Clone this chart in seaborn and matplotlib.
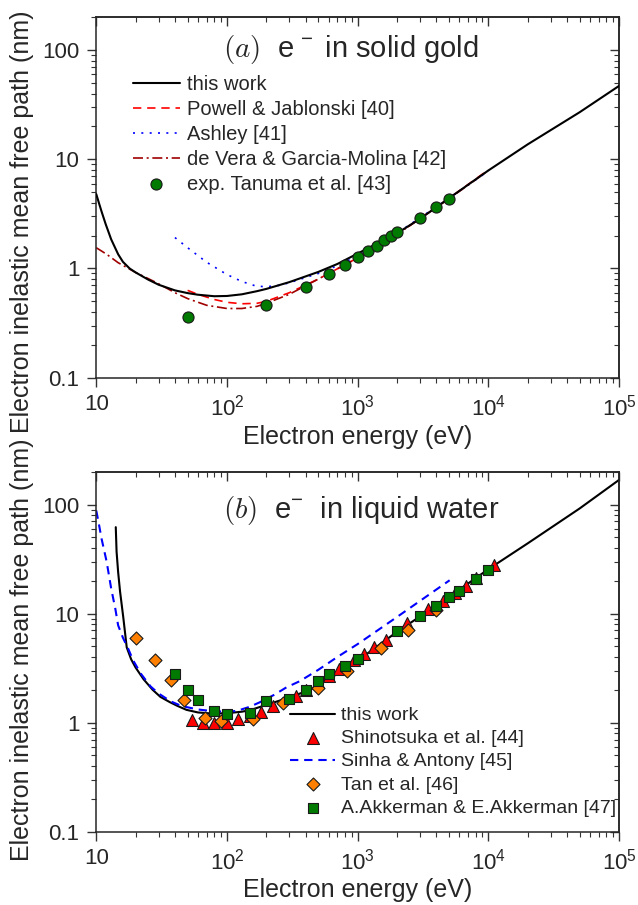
import numpy as np
import matplotlib
matplotlib.use("Agg")
import matplotlib.pyplot as plt
from matplotlib.ticker import NullFormatter
import seaborn as sns

# ---------------- (a) electrons in solid gold ----------------
au_this_E = [10, 10.5, 11, 11.8, 13, 14.7, 16, 18, 20, 25, 30, 40, 50, 60, 80, 100, 130,
             170, 200, 300, 500, 700, 1000, 2000, 3000, 5000, 10000, 20000, 50000, 100000]
au_this_L = [4.8, 3.95, 3.3, 2.55, 1.85, 1.35, 1.15, 1.0, 0.92, 0.79, 0.71, 0.63, 0.595, 0.575,
             0.557, 0.56, 0.58, 0.62, 0.65, 0.75, 0.93, 1.1, 1.37, 2.1, 2.85, 4.4, 7.9,
             13.7, 27, 47]

powell_E = [50, 60, 80, 100, 130, 170, 200, 300, 500, 1000, 2000, 5000, 10000]
powell_L = [0.63, 0.58, 0.52, 0.49, 0.475, 0.48, 0.5, 0.6, 0.8, 1.25, 2.05, 4.4, 8.0]

ashley_E = [40, 50, 70, 100, 130, 167, 200, 250, 300, 500, 700, 1000, 2000, 5000, 10000]
ashley_L = [1.92, 1.55, 1.14, 0.88, 0.76, 0.69, 0.68, 0.70, 0.74, 0.9, 1.06, 1.31, 2.1, 4.4, 7.8]

devera_E = [10, 12, 14.7, 20, 29, 40, 50, 70, 100, 130, 170, 200, 300, 500, 1000, 2000,
            5000, 10000]
devera_L = [1.55, 1.35, 1.13, 0.92, 0.74, 0.6, 0.53, 0.46, 0.43, 0.43, 0.45, 0.48, 0.58,
            0.8, 1.25, 2.05, 4.35, 7.9]

tanuma_E = [50, 200, 400, 600, 800, 1000, 1200, 1400, 1600, 1800, 2000, 3000, 4000, 5000]
tanuma_L = [0.36, 0.46, 0.68, 0.89, 1.08, 1.27, 1.46, 1.61, 1.82, 1.99, 2.15, 2.93, 3.67, 4.37]

# ---------------- (b) electrons in liquid water ----------------
w_this_E = [14.1, 14.3, 14.7, 15.2, 16.1, 17.1, 18.5, 20, 23, 27, 31, 36.6, 42, 49, 60, 78,
            100, 130, 150, 213, 300, 432, 500, 700, 1000, 2000, 3000, 5000, 10000, 20000,
            50000, 100000]
w_this_L = [62, 37, 24, 16, 9.2, 4.9, 3.8, 3.2, 2.5, 2.0, 1.72, 1.54, 1.42, 1.31, 1.24, 1.21,
            1.22, 1.26, 1.3, 1.49, 1.7, 2.0, 2.2, 2.8, 3.7, 6.8, 9.4, 14.2, 25.5, 44, 92, 168]

sinha_E = [10, 10.5, 11, 12, 13, 14, 14.7, 16, 17.5, 19.2, 22, 26, 30, 37, 45, 60, 80, 100,
           119, 150, 179, 230, 286, 361, 500, 700, 1000, 1172, 2000, 3570, 5060]
sinha_L = [88, 65, 48, 30, 17, 11, 7.8, 6.0, 4.8, 3.7, 2.8, 2.15, 1.85, 1.57, 1.42, 1.32,
           1.27, 1.26, 1.28, 1.4, 1.54, 1.8, 2.11, 2.4, 3.05, 4.0, 5.25, 5.98, 9.3, 15.1, 20.2]

shino_E = [54, 66, 80, 100, 122, 150, 181, 224, 336, 400, 500, 600, 723, 937, 1117, 1334,
           1648, 2400, 3470, 4520, 5600, 6700, 8000, 11100]
shino_L = [1.05, 1.0, 1.0, 1.0, 1.09, 1.15, 1.25, 1.41, 1.77, 2.0, 2.35, 2.7, 3.11, 3.76,
           4.27, 4.97, 5.77, 8.2, 11.0, 13.1, 15.6, 17.9, 21.0, 28.0]

tan_E = [20.3, 28.3, 37, 47, 68, 90, 157, 269, 500, 824, 1508, 2415, 3990]
tan_L = [5.94, 3.76, 2.44, 1.62, 1.11, 1.03, 1.09, 1.51, 2.09, 3.0, 4.8, 7.07, 10.8]

akk_E = [40, 50, 60, 80, 100, 150, 200, 300, 400, 500, 600, 800, 1000, 2000, 3000, 4000,
         5000, 6000, 8000, 10000]
akk_L = [2.77, 2.01, 1.6, 1.28, 1.21, 1.23, 1.57, 1.66, 2.0, 2.43, 2.8, 3.29, 3.84, 6.9,
         9.5, 11.7, 14.1, 16.2, 20.7, 25.0]

x_ticks = [10, 1e2, 1e3, 1e4, 1e5]
x_ticklabels = ["10", r"$\mathregular{10^2}$", r"$\mathregular{10^3}$",
                r"$\mathregular{10^4}$", r"$\mathregular{10^5}$"]
y_ticks = [0.1, 1, 10, 100]
y_ticklabels = ["0.1", "1", "10", "100"]

sns.set_style("ticks")
plt.rcParams["font.family"] = ["Liberation Sans", "DejaVu Sans"]
plt.rcParams["axes.linewidth"] = 1.1

fig = plt.figure(figsize=(6.38, 9.05), dpi=100)
ax_a = fig.add_axes([0.1509, 0.5827, 0.8193, 0.3982])
ax_b = fig.add_axes([0.1509, 0.0810, 0.8193, 0.3978])


def style_axes(ax, ylab_y):
    ax.set_xscale("log")
    ax.set_yscale("log")
    ax.set_xlim(10, 1e5)
    ax.set_ylim(0.1, 200)
    ax.set_xticks(x_ticks, labels=x_ticklabels)
    ax.set_yticks(y_ticks, labels=y_ticklabels)
    ax.xaxis.set_minor_formatter(NullFormatter())
    ax.yaxis.set_minor_formatter(NullFormatter())
    ax.tick_params(which="both", direction="out", top=False, right=False,
                   labelsize=16, color="#333333")
    ax.tick_params(which="major", length=6.5, width=1.0, pad=5.5)
    ax.tick_params(which="minor", length=3.4, width=0.8)
    for side in ("top", "right"):
        ax.spines[side].set_visible(True)
    sec_x = ax.secondary_xaxis("top")
    sec_x.tick_params(which="both", direction="in", labeltop=False, color="#333333")
    sec_x.tick_params(which="major", length=6.5, width=1.0)
    sec_x.tick_params(which="minor", length=3.4, width=0.8)
    sec_y = ax.secondary_yaxis("right")
    sec_y.tick_params(which="both", direction="in", labelright=False, color="#333333")
    sec_y.tick_params(which="major", length=6.5, width=1.0)
    sec_y.tick_params(which="minor", length=3.4, width=0.8)
    for sec in (sec_x, sec_y):
        sec.xaxis.set_minor_formatter(NullFormatter())
        sec.yaxis.set_minor_formatter(NullFormatter())
    ax.set_xlabel("Electron energy (eV)", fontsize=18)
    ax.set_ylabel("Electron inelastic mean free path (nm)", fontsize=18)
    ax.xaxis.set_label_coords(0.5, -0.131)
    ax.yaxis.set_label_coords(-0.120, ylab_y)


# ---- panel (a)
style_axes(ax_a, 0.432)
sns.lineplot(x=au_this_E, y=au_this_L, ax=ax_a, color="black", lw=1.5,
             label="this work", estimator=None, sort=False, zorder=3)
sns.lineplot(x=powell_E, y=powell_L, ax=ax_a, color="#ff0000", lw=1.2,
             linestyle=(0, (5, 3.5)), label="Powell & Jablonski [40]",
             estimator=None, sort=False, zorder=2)
sns.lineplot(x=ashley_E, y=ashley_L, ax=ax_a, color="#0000ff", lw=1.2,
             linestyle=(0, (1.2, 3.8)), label="Ashley [41]",
             estimator=None, sort=False, zorder=2)
sns.lineplot(x=devera_E, y=devera_L, ax=ax_a, color="#a00000", lw=1.2,
             linestyle=(0, (6, 2.2, 1.2, 2.2)), label="de Vera & Garcia-Molina [42]",
             estimator=None, sort=False, zorder=2)
sns.scatterplot(x=tanuma_E, y=tanuma_L, ax=ax_a, marker="o", s=64, color="#007a00",
                edgecolor="#1a1a1a", linewidth=0.8, label="exp. Tanuma et al. [43]",
                zorder=5)
ax_a.legend(loc="upper left", bbox_to_anchor=(0.0702, 0.841), frameon=False,
            fontsize=14.5, handlelength=2.33, handletextpad=0.35, labelspacing=0.3,
            borderpad=0, borderaxespad=0, scatterpoints=1)
ax_a.text(0.242, 0.910, r"$(a)$  $\mathregular{e^{\,-}}$ in solid gold", fontsize=21,
          math_fontfamily="cm", transform=ax_a.transAxes, ha="left", va="center")

# ---- panel (b)
style_axes(ax_b, 0.5047)
ax_b.xaxis.set_label_coords(0.5, -0.1286)
sns.lineplot(x=w_this_E, y=w_this_L, ax=ax_b, color="black", lw=1.5,
             label="this work", estimator=None, sort=False, zorder=2)
sns.scatterplot(x=shino_E, y=shino_L, ax=ax_b, marker="^", s=74, color="#ff0000",
                edgecolor="#1a1a1a", linewidth=0.8, label="Shinotsuka et al. [44]",
                zorder=3)
sns.lineplot(x=sinha_E, y=sinha_L, ax=ax_b, color="#0000ff", lw=1.5,
             linestyle=(0, (4, 2.8)), label="Sinha & Antony [45]",
             estimator=None, sort=False, zorder=2)
sns.scatterplot(x=tan_E, y=tan_L, ax=ax_b, marker="D", s=44, color="#ff8000",
                edgecolor="#1a1a1a", linewidth=0.8, label="Tan et al. [46]", zorder=4)
sns.scatterplot(x=akk_E, y=akk_L, ax=ax_b, marker="s", s=50, color="#007a00",
                edgecolor="#1a1a1a", linewidth=0.8,
                label="A.Akkerman & E.Akkerman [47]", zorder=5)
ax_b.legend(loc="upper left", bbox_to_anchor=(0.3706, 0.347), frameon=False,
            fontsize=14, handlelength=2.32, handletextpad=0.31, labelspacing=0.28,
            borderpad=0, borderaxespad=0, scatterpoints=1)
ax_b.text(0.242, 0.893, r"$(b)$  $\mathregular{e^{-}}$  in liquid water", fontsize=21,
          math_fontfamily="cm", transform=ax_b.transAxes, ha="left", va="center")

fig.savefig("out.png", dpi=100)
